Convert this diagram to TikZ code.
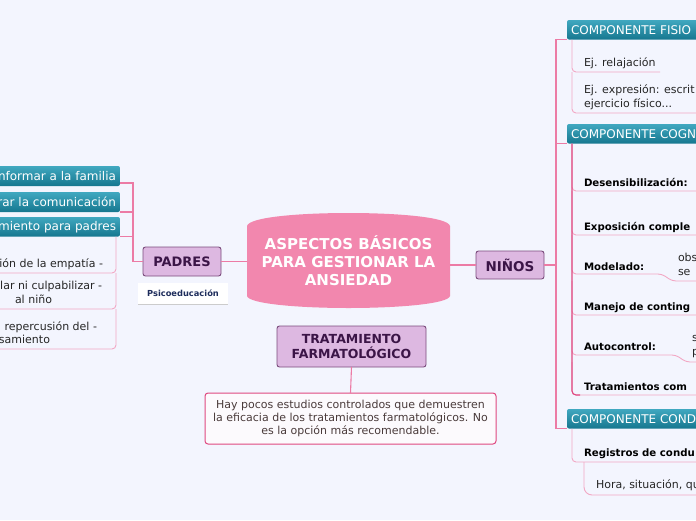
\documentclass[tikz,border=0pt]{standalone}
\usepackage{fontspec}
\setmainfont{DejaVu Sans}
\usetikzlibrary{calc}

\definecolor{fondo}{HTML}{F3F5FE}
\definecolor{centro}{HTML}{F287AE}
\definecolor{lila}{HTML}{DDB8E1}
\definecolor{lilaborde}{HTML}{7A4C7C}
\definecolor{lilatexto}{HTML}{3B1547}
\definecolor{tealtop}{HTML}{40A8C0}
\definecolor{tealbot}{HTML}{16778F}
\definecolor{rosa}{HTML}{EC7BA5}
\definecolor{rosaclaro}{HTML}{F2A8C4}
\definecolor{rosafuerte}{HTML}{DF4880}
\definecolor{textogris}{HTML}{4A3B3B}
\definecolor{marino}{HTML}{1E2D5C}
\definecolor{nota}{HTML}{FCFAFD}

\begin{document}
\begin{tikzpicture}[x=1pt,y=-1pt,
  every node/.style={inner sep=0pt,outer sep=0pt},
  rama/.style={draw=rosa,line width=1.1pt},
  fila/.style={draw=rosaclaro,line width=0.9pt,rounded corners=4pt},
  tema/.style={rectangle,rounded corners=2.5pt,fill=lila,draw=lilaborde,line width=0.9pt,
    text=lilatexto,font=\bfseries\fontsize{13}{15}\selectfont,align=center},
  comp/.style={rounded corners=2pt,top color=tealtop,bottom color=tealbot},
  comptexto/.style={text=white,font=\fontsize{12}{14}\selectfont},
  hoja/.style={font=\fontsize{11}{13}\selectfont,text=black!85,anchor=base west},
  titulo/.style={font=\bfseries\fontsize{10.2}{12}\selectfont,text=black,anchor=base west}
]
\useasboundingbox (0,0) rectangle (696,520);
\clip (0,0) rectangle (696,520);
\fill[fondo] (0,0) rectangle (696,520);

\fill[centro] (247,226) -- (247,296) .. controls (249,304) and (300,308) .. (348.5,308)
  .. controls (397,308) and (448,304) .. (450,296) -- (450,226)
  .. controls (448,217) and (397,213) .. (348.5,213)
  .. controls (300,213) and (249,217) .. (247,226) -- cycle;
\node[minimum width=203pt,minimum height=95pt,text=white,align=center,
  font=\bfseries\fontsize{15}{18}\selectfont] (asp) at (348.5,260.5)
  {ASPECTOS BÁSICOS\\PARA GESTIONAR LA\\ANSIEDAD};

\node[tema,minimum width=78pt,minimum height=29pt] (padres) at (182,261.5) {PADRES};
\node[tema,minimum width=68pt,minimum height=28pt,
  font=\bfseries\fontsize{13.5}{15}\selectfont] (ninos) at (510,265) {NIÑOS};
\node[tema,minimum width=149pt,minimum height=41pt,
  font=\bfseries\fontsize{12.5}{15}\selectfont] (farma) at (351.5,346.5) {TRATAMIENTO\\FARMATOLÓGICO};
\node[draw=rosafuerte,fill=nota,rounded corners=3pt,line width=1pt,minimum width=291pt,
  minimum height=51pt,align=center,font=\fontsize{11}{13}\selectfont,text=textogris] (nota)
  at (350.5,418.5) {Hay pocos estudios controlados que demuestren\\la eficacia de los tratamientos farmatológicos. No\\es la opción más recomendable.};
\node[fill=white,minimum width=90pt,minimum height=21pt,text=marino,
  font=\bfseries\fontsize{8.3}{10}\selectfont] (psico) at (183,293.5) {Psicoeducación};
\draw[black!20,line width=1pt] (psico.south west) -- (psico.south east);

\draw[rama] (asp.west |- padres.east) -- (padres.east);
\draw[rama] (asp.east |- ninos.west) -- (ninos.west);
\draw[rama] (farma.south) -- (nota.north);

\foreach \n/\a/\b/\t in {inf/166/186/nformar a la familia,com/192/212/rar la comunicación,ent/217/236.5/miento para padres}{
  \shade[comp] (-10,\a) rectangle (120,\b);
  \node[comptexto,anchor=east] (\n) at (116,{(\a+\b)/2}) {\t};
}

\coordinate (tp) at (133,261.5);
\coordinate (inf-b) at (120,183);
\coordinate (com-b) at (120,212);
\coordinate (ent-b) at (120,236.5);
\draw[rama] (padres.west) -- (tp) |- (inf-b);
\draw[rama] (tp |- com-b) -- (com-b);
\draw[rama] (tp |- ent-b) -- (ent-b);

\foreach \a/\b in {236.5/273,273/309,309/349}
  \draw[fila] (116,\a) -- (116,\b) -- (-5,\b);
\node[hoja,anchor=base east] (emp) at (103,267) {ión de la empatía -};
\node[hoja,anchor=base east] (culp) at (102,289) {lar ni culpabilizar -};
\node[hoja] (nino) at (15,303) {al niño};
\node[hoja,anchor=base east] (rep) at (97,330) {repercusión del -};
\node[hoja,anchor=base east] (pens) at (50,343) {samiento};

\foreach \n/\a/\t in {fis/20/COMPONENTE FISIO,cog/124/COMPONENTE COGN,cond/409/COMPONENTE COND}{
  \shade[comp] (567,\a) rectangle (710,\a+19.5);
  \node[comptexto,anchor=west] (\n) at (571,\a+9.75) {\t};
}

\coordinate (fis-b) at (567,39.5);
\coordinate (cog-b) at (567,143.5);
\coordinate (cond-b) at (567,428.5);
\draw[rama] (ninos.east) -- ++(12,0);
\draw[rama] (fis-b) -- ++(-11,0) |- (cond-b);
\draw[rama] (cog-b) -- ++(-11,0);

\draw[fila] (572,39.5) -- (572,72) -- (660,72);
\draw[fila] (572,72) -- (572,113) -- (700,113);
\node[hoja] (rel) at (584,66.5) {Ej. relajación};
\node[hoja] (expr) at (584,93) {Ej. expresión: escrit};
\node[hoja] (ejer) at (584,107) {ejercicio físico...};

\foreach \a/\b in {143.5/191,191/235,281/315,362/395}
  \draw[fila] (572,\a) -- (572,\b) -- (700,\b);
\draw[fila] (572,235) -- (572,274) -- (662,274) -- (672,281) -- (700,281);
\draw[fila] (572,315) -- (572,355) -- (676,355) -- (686,362) -- (700,362);
\draw[draw=rosafuerte,line width=1.1pt,rounded corners=4pt] (572,143.5) -- (572,395) -- (580,395);
\node[titulo] (des) at (584,186) {Desensibilización:};
\node[titulo] (expo) at (584,230) {Exposición comple};
\node[titulo] (mod) at (584,270) {Modelado:};
\node[hoja] (obs) at (678,261) {obs};
\node[hoja] (se) at (678,275) {se};
\node[titulo] (man) at (584,310) {Manejo de conting};
\node[titulo] (auto) at (584,350) {Autocontrol:};
\node[hoja] (s) at (692,341.5) {s};
\node[hoja] (p) at (692,355) {p};
\node[titulo] (trat) at (584,390) {Tratamientos com};

\draw[fila] (572,428.5) -- (572,462) -- (700,462);
\draw[fila,rounded corners=8pt] (584,462) -- (584,495) -- (700,495);
\node[titulo] (reg) at (584,456) {Registros de condu};
\node[hoja] (hora) at (596,488) {Hora, situación, qu};
\end{tikzpicture}
\end{document}
